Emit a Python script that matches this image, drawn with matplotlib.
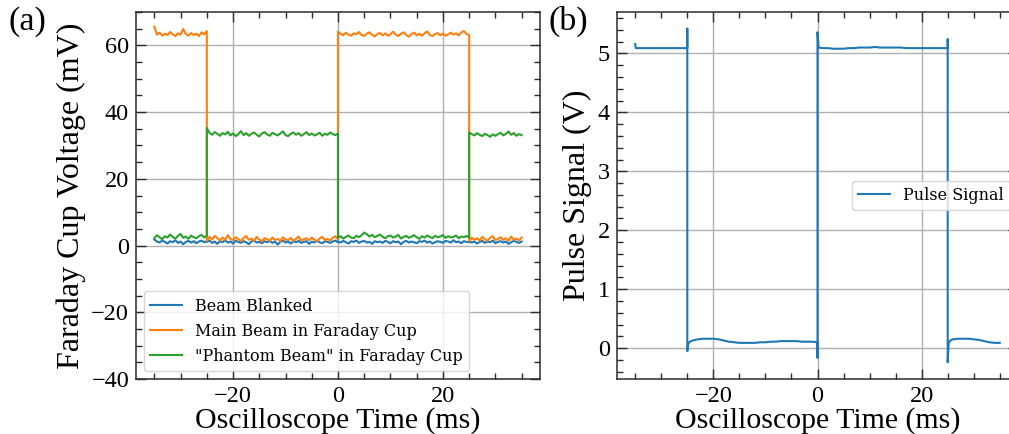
import numpy as np
import matplotlib
matplotlib.use("Agg")
import matplotlib.pyplot as plt
from matplotlib.ticker import MultipleLocator

# ---------------- data ----------------
# segment boundaries (ms) for the beam traces
segment_edges_ms = [-35, -25, 0, 25, 35]

beam_blanked_mV = [
    [1.8, 1.2, 0.9, 1.5, 1.1, 0.6, 1.3, 1.0, 1.6, 0.8, 1.2, 0.4, 1.1, 1.4, 0.9, 1.3, 0.7, 1.2, 1.5, 1.0, 1.3],
    [1.1, 1.5, 0.8, 1.2, 0.5, 1.3, 1.0, 1.6, 0.9, 1.2, 0.6, 1.4, 1.1, 0.8, 1.3, 1.0, 0.4, 1.2, 1.5, 0.9,
     1.1, 0.7, 1.3, 1.0, 1.4, 0.8, 1.2, 0.3, 1.1, 1.5, 0.9, 1.2, 0.6, 1.3, 1.0, 1.4, 0.8, 1.1, 1.3, 0.5,
     1.2, 0.9, 1.4, 1.0, 0.7, 1.3, 1.1, 0.8, 1.2, 1.5, 1.0],
    [1.2, 0.9, 1.4, 1.0, 0.6, 1.3, 1.1, 1.5, 0.8, 1.2, 1.4, 0.9, 1.1, 0.5, 1.3, 1.0, 1.2, 0.8, 1.4, 1.1,
     0.7, 1.3, 1.0, 1.2, 0.4, 1.1, 1.4, 0.9, 1.2, 1.0, 0.7, 1.3, 1.1, 1.5, 0.9, 1.2, 0.6, 1.0, 1.3, 1.1,
     0.8, 1.4, 1.2, 0.9, 1.6, 1.0, 1.2, 0.7, 1.3, 1.1, 1.0],
    [1.3, 0.9, 1.2, 0.6, 1.1, 1.4, 0.8, 1.2, 1.0, 1.5, 0.7, 1.1, 1.3, 0.9, 1.2, 0.5, 1.0, 1.4, 1.1, 0.8, 1.2],
]

main_beam_mV = [
    [65.6, 63.2, 63.8, 62.9, 63.5, 63.1, 64.0, 63.3, 62.8, 63.6, 63.2, 64.9, 63.4, 62.9, 63.7, 63.1, 63.5,
     62.8, 63.9, 63.3, 64.3],
    [1.4, 2.6, 1.8, 2.9, 2.2, 1.5, 2.4, 1.7, 3.1, 2.0, 1.6, 2.5, 1.9, 1.3, 2.3, 2.8, 1.7, 2.1, 1.4, 2.6,
     1.8, 1.2, 2.2, 1.9, 1.5, 2.4, 1.7, 2.0, 1.3, 2.5, 1.8, 1.6, 2.3, 1.4, 2.0, 2.7, 1.5, 1.9, 2.2, 1.6,
     2.4, 1.8, 1.3, 2.1, 2.6, 1.7, 2.0, 1.5, 2.3, 2.8, 1.9],
    [64.1, 63.5, 63.0, 63.8, 63.2, 62.9, 63.6, 63.3, 64.0, 63.1, 62.8, 63.5, 63.9, 63.2, 62.7, 63.4, 63.7,
     63.0, 63.6, 62.9, 63.3, 64.1, 63.2, 62.8, 63.5, 63.9, 63.1, 62.6, 63.4, 63.8, 63.0, 63.5, 62.9, 63.6,
     64.2, 63.1, 62.8, 63.4, 63.7, 63.0, 63.5, 62.9, 63.3, 63.8, 63.2, 63.6, 63.0, 63.9, 64.3, 63.4, 63.1],
    [1.3, 2.4, 1.7, 2.2, 1.5, 2.6, 1.9, 1.4, 2.3, 2.8, 1.6, 2.0, 2.5, 1.7, 2.2, 1.4, 2.7, 1.8, 2.1, 1.5, 2.4],
]

phantom_beam_mV = [
    [2.2, 3.1, 2.5, 1.9, 2.8, 2.4, 3.3, 2.6, 2.1, 2.9, 3.5, 2.3, 2.7, 2.0, 3.0, 2.5, 2.2, 2.8, 3.2, 2.4, 2.9],
    [35.2, 33.8, 33.2, 34.0, 33.5, 32.9, 33.7, 33.3, 34.1, 33.0, 33.6, 32.8, 33.4, 34.3, 33.1, 33.7, 32.9,
     33.5, 33.9, 33.2, 32.7, 33.6, 34.0, 33.3, 32.9, 33.8, 33.4, 33.0, 33.6, 34.2, 33.1, 32.8, 33.5, 33.9,
     33.2, 33.7, 32.9, 33.4, 34.0, 33.1, 33.6, 33.0, 33.3, 33.8, 32.9, 33.5, 33.2, 33.9, 33.4, 33.1, 33.6],
    [2.3, 2.8, 2.1, 2.6, 3.0, 2.4, 2.2, 2.9, 2.5, 3.1, 3.9, 3.4, 2.7, 3.2, 2.5, 2.9, 3.3, 2.6, 2.2, 2.8,
     3.0, 2.4, 2.7, 3.2, 2.1, 2.6, 2.9, 2.3, 2.7, 3.1, 2.5, 2.0, 2.8, 2.4, 3.0, 2.6, 2.2, 2.9, 2.5, 2.7,
     3.1, 2.3, 2.8, 2.4, 2.6, 3.0, 2.2, 2.7, 2.5, 2.9, 2.4],
    [33.9, 33.4, 33.0, 33.7, 33.2, 32.8, 33.5, 33.1, 32.6, 33.3, 32.9, 33.4, 33.8, 33.0, 33.5, 34.2, 33.2,
     33.7, 32.9, 33.4, 33.1],
]

pulse_time_ms = [-35.0, -34.9, -34, -32, -30, -28, -26, -25, -25, -25,
                 -24.8, -24.5, -24, -23, -22, -21, -20, -19, -18, -17,
                 -16, -15, -14, -13, -12, -11, -10, -9, -8, -7,
                 -6, -5, -4, -3, -2, -1, 0, 0, 0, 0.2,
                 1, 2, 3, 4, 5, 6, 7, 8, 9, 10,
                 11, 12, 13, 14, 15, 16, 17, 18, 19, 20,
                 21, 22, 23, 24, 25, 25, 25, 25.2, 25.5, 26,
                 27, 28, 29, 30, 31, 32, 33, 34, 35]
pulse_V = [5.16, 5.09, 5.09, 5.09, 5.09, 5.09, 5.09, 5.09, 5.42, -0.05,
           0.08, 0.11, 0.13, 0.15, 0.16, 0.16, 0.16, 0.15, 0.13, 0.11,
           0.10, 0.09, 0.09, 0.09, 0.09, 0.10, 0.10, 0.11, 0.11, 0.12,
           0.12, 0.12, 0.12, 0.11, 0.11, 0.11, 0.10, -0.16, 5.36, 5.10,
           5.09, 5.09, 5.08, 5.08, 5.08, 5.09, 5.09, 5.10, 5.10, 5.10,
           5.11, 5.10, 5.10, 5.10, 5.10, 5.10, 5.09, 5.09, 5.09, 5.09,
           5.09, 5.09, 5.09, 5.09, 5.09, 5.24, -0.24, 0.09, 0.13, 0.15,
           0.16, 0.16, 0.16, 0.15, 0.14, 0.12, 0.10, 0.09, 0.09]

labels_a = ["Beam Blanked", "Main Beam in Faraday Cup", '"Phantom Beam" in Faraday Cup']
colors = ["#1f77b4", "#ff7f0e", "#2ca02c"]


def segmented(segments):
    ts, vs = [], []
    for i, seg in enumerate(segments):
        ts.append(np.linspace(segment_edges_ms[i], segment_edges_ms[i + 1], len(seg)))
        vs.append(np.asarray(seg, dtype=float))
    return np.concatenate(ts), np.concatenate(vs)


# ---------------- style ----------------
plt.rcParams["font.family"] = ["Liberation Serif", "DejaVu Serif"]
plt.rcParams["axes.unicode_minus"] = True
spine_col = "#2b2b2b"

fig = plt.figure(figsize=(10.09, 4.34), dpi=100)
W, H = 1009, 434
ax1 = fig.add_axes([136 / W, (H - 379) / H, 404 / W, 367 / H])
ax2 = fig.add_axes([617 / W, (H - 379) / H, 401 / W, 367 / H])


def style(ax, ymaj, ymin):
    ax.xaxis.set_major_locator(MultipleLocator(20))
    ax.xaxis.set_minor_locator(MultipleLocator(5))
    ax.yaxis.set_major_locator(MultipleLocator(ymaj))
    ax.yaxis.set_minor_locator(MultipleLocator(ymin))
    ax.tick_params(which="both", direction="in", top=True, right=True,
                   colors=spine_col, labelcolor="black", width=1.0)
    ax.tick_params(which="major", length=7, labelsize=17.5, pad=5)
    ax.tick_params(which="minor", length=4)
    ax.grid(True, which="major", color="#b0b0b0", linewidth=1.0)
    ax.set_axisbelow(True)
    for s in ax.spines.values():
        s.set_color(spine_col)
        s.set_linewidth(1.1)


for segs, lab, c in zip([beam_blanked_mV, main_beam_mV, phantom_beam_mV], labels_a, colors):
    t, v = segmented(segs)
    ax1.plot(t, v, color=c, lw=1.5, label=lab)
ax1.set_ylim(-40, 70)
style(ax1, 20, 5)
ax1.set_xlabel("Oscilloscope Time (ms)", fontsize=21.5, labelpad=0)
ax1.set_ylabel("Faraday Cup Voltage (mV)", fontsize=23, labelpad=4)
ax1.legend(loc="lower left", prop={"family": "DejaVu Serif", "size": 11.5})

ax2.plot(pulse_time_ms, pulse_V, color=colors[0], lw=1.5, label="Pulse Signal")
style(ax2, 1, 0.2)
ax2.set_xlabel("Oscilloscope Time (ms)", fontsize=21.5, labelpad=0)
ax2.set_ylabel("Pulse Signal (V)", fontsize=23, labelpad=4)
ax2.legend(loc="center right", prop={"family": "DejaVu Serif", "size": 11.5})

fig.text(8 / W, 1 - 6 / H, "(a)", fontsize=24.5, va="top", ha="left")
fig.text(548 / W, 1 - 6 / H, "(b)", fontsize=24.5, va="top", ha="left")

fig.savefig("out.png", dpi=100)
